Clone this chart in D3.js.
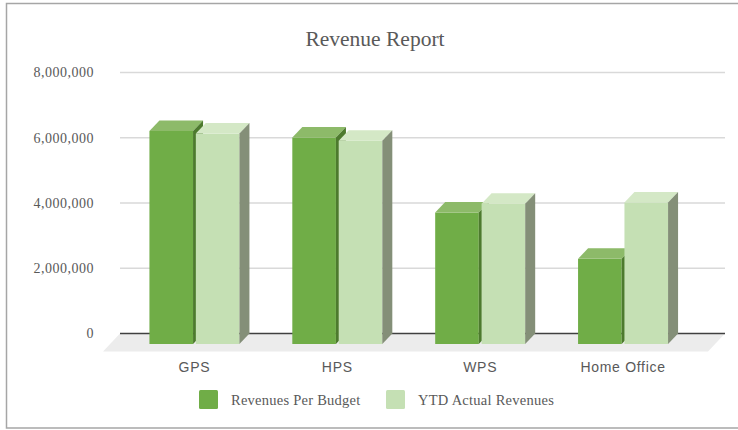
<!DOCTYPE html>
<html>
<head>
<meta charset="utf-8">
<script src="https://cdn.jsdelivr.net/npm/d3@7"></script>
<style>
  body { margin: 0; background: #fff; }
  svg { display: block; }
</style>
</head>
<body>
<svg id="chart" width="738" height="430"></svg>
<script>
// Data
const categories = ["GPS", "HPS", "WPS", "Home Office"];
const seriesNames = ["Revenues Per Budget", "YTD Actual Revenues"];
const budget = [6530000, 6330000, 4030000, 2610000];
const actual = [6450000, 6230000, 4300000, 4340000];
const yTicks = [0, 2000000, 4000000, 6000000, 8000000];

const svg = d3.select("#chart");
const text_color = "#595959";

// colours per series: front, top, side
const colors = [
  { front: "#70ad47", top: "#8dba69", side: "#4d7a2e" },
  { front: "#c5e0b4", top: "#d4e8c6", side: "#848f78" }
];

// outer frame
svg.append("rect")
  .attr("x", 6.5).attr("y", 3.5)
  .attr("width", 745).attr("height", 424.5)
  .attr("fill", "#fff")
  .attr("stroke", "#a6a6a6")
  .attr("stroke-width", 1.5);

// title
svg.append("text")
  .attr("x", 375).attr("y", 46)
  .attr("text-anchor", "middle")
  .attr("font-family", "Liberation Serif")
  .attr("font-size", 21.5)
  .attr("fill", text_color)
  .text("Revenue Report");

// scales (back wall)
const wallLeft = 120, wallRight = 725;
const y = d3.scaleLinear().domain([0, 8000000]).range([333.5, 72.5]);
const x = d3.scaleBand().domain(categories).range([123, 694.5]);
const xSub = d3.scaleBand().domain(seriesNames)
  .range([x.bandwidth() / 2 - 45, x.bandwidth() / 2 + 45])
  .paddingInner(0.06);

// depth offset between front face and back face of a bar
const dx = 10, dy = 10.5;
// floor depth
const fdx = 17, fdy = 18;

// gridlines
svg.append("g")
  .selectAll("line")
  .data(yTicks.filter(d => d > 0))
  .join("line")
  .attr("x1", wallLeft).attr("x2", wallRight)
  .attr("y1", d => y(d)).attr("y2", d => y(d))
  .attr("stroke", "#d9d9d9")
  .attr("stroke-width", 1.5);

// y axis labels
svg.append("g")
  .selectAll("text")
  .data(yTicks)
  .join("text")
  .attr("x", 94)
  .attr("y", d => y(d))
  .attr("dy", "0.35em")
  .attr("text-anchor", "end")
  .attr("font-family", "Liberation Serif")
  .attr("font-size", 14)
  .attr("letter-spacing", 0.5)
  .attr("fill", text_color)
  .text(d => d3.format(",")(d));

// floor
const y0 = y(0);
svg.append("path")
  .attr("d", `M${wallLeft},${y0} L${wallRight},${y0} L${wallRight - fdx},${y0 + fdy} L${wallLeft - fdx},${y0 + fdy} Z`)
  .attr("fill", "#ececec");

svg.append("line")
  .attr("x1", wallLeft).attr("x2", wallRight)
  .attr("y1", y0).attr("y2", y0)
  .attr("stroke", "#404040")
  .attr("stroke-width", 1.6);

// bars
const rows = categories.map((c, i) => ({ cat: c, values: [budget[i], actual[i]] }));

rows.forEach(row => {
  row.values.forEach((v, s) => {
    const xl = x(row.cat) + xSub(seriesNames[s]);
    const xr = xl + xSub.bandwidth();
    const yt = y(v) + dy;
    const yb = y0 + dy;
    const g = svg.append("g");
    // front
    g.append("rect")
      .attr("x", xl).attr("y", yt)
      .attr("width", xr - xl).attr("height", yb - yt)
      .attr("fill", colors[s].front);
    // top
    g.append("path")
      .attr("d", `M${xl},${yt} L${xl + dx},${yt - dy} L${xr + dx},${yt - dy} L${xr},${yt} Z`)
      .attr("fill", colors[s].top);
    // side
    g.append("path")
      .attr("d", `M${xr},${yt} L${xr + dx},${yt - dy} L${xr + dx},${yb - dy} L${xr},${yb} Z`)
      .attr("fill", colors[s].side);
  });
});

// category labels
svg.append("g")
  .selectAll("text")
  .data(categories)
  .join("text")
  .attr("x", d => x(d) + x.bandwidth() / 2)
  .attr("y", 372)
  .attr("text-anchor", "middle")
  .attr("font-family", "Liberation Sans")
  .attr("font-size", 14)
  .attr("letter-spacing", 0.7)
  .attr("fill", text_color)
  .text(d => d);

// legend
const legendX = [199, 386];
const legend = svg.append("g")
  .selectAll("g")
  .data(seriesNames)
  .join("g")
  .attr("transform", (d, i) => `translate(${legendX[i]}, 390)`);

legend.append("rect")
  .attr("width", 19).attr("height", 19)
  .attr("rx", 1.5)
  .attr("fill", (d, i) => colors[i].front);

legend.append("text")
  .attr("x", 32).attr("y", 15)
  .attr("font-family", "Liberation Serif")
  .attr("font-size", 14.5)
  .attr("letter-spacing", 0.25)
  .attr("fill", text_color)
  .text(d => d);
</script>
</body>
</html>
